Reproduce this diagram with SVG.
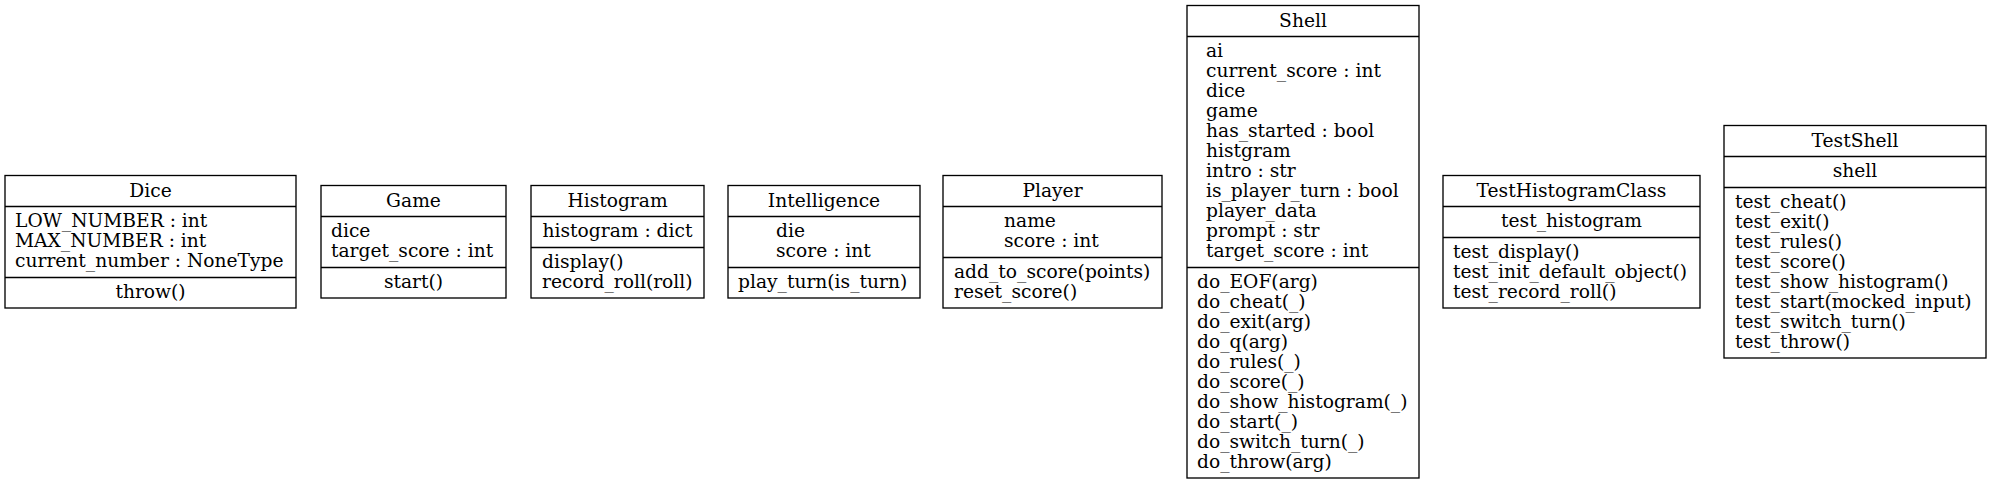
<svg xmlns="http://www.w3.org/2000/svg" width="1990" height="484" viewBox="0 0 1990 484">
<style>
.box{fill:#fff;stroke:#000;stroke-width:1.33}
.sep{stroke:#000;stroke-width:1.33}
text{font-family:"DejaVu Serif","Liberation Serif",serif;font-size:18.67px;fill:#000}
.c{text-anchor:middle}
</style>
<rect width="1990" height="484" fill="#fff"/>
<g id="connectors"></g>
<g id="Dice">
<rect class="box" x="5" y="175.5" width="291" height="132.5"/>
<line class="sep" x1="5" y1="206.5" x2="296" y2="206.5"/>
<line class="sep" x1="5" y1="277.5" x2="296" y2="277.5"/>
<text class="c" x="150.5" y="196.5">Dice</text>
<text x="15" y="227">LOW_NUMBER : int</text>
<text x="15" y="247">MAX_NUMBER : int</text>
<text x="15" y="267">current_number : NoneType</text>
<text class="c" x="150.5" y="298">throw()</text>
</g>
<g id="Game">
<rect class="box" x="321" y="185.5" width="185" height="112.5"/>
<line class="sep" x1="321" y1="216.5" x2="506" y2="216.5"/>
<line class="sep" x1="321" y1="267.5" x2="506" y2="267.5"/>
<text class="c" x="413.5" y="206.5">Game</text>
<text x="331" y="237">dice</text>
<text x="331" y="257">target_score : int</text>
<text class="c" x="413.5" y="288">start()</text>
</g>
<g id="Histogram">
<rect class="box" x="531" y="185.5" width="173" height="112.5"/>
<line class="sep" x1="531" y1="216.5" x2="704" y2="216.5"/>
<line class="sep" x1="531" y1="247.5" x2="704" y2="247.5"/>
<text class="c" x="617.5" y="206.5">Histogram</text>
<text class="c" x="617.5" y="237">histogram : dict</text>
<text x="542" y="268">display()</text>
<text x="542" y="288">record_roll(roll)</text>
</g>
<g id="Intelligence">
<rect class="box" x="728" y="185.5" width="192" height="112.5"/>
<line class="sep" x1="728" y1="216.5" x2="920" y2="216.5"/>
<line class="sep" x1="728" y1="267.5" x2="920" y2="267.5"/>
<text class="c" x="824" y="206.5">Intelligence</text>
<text x="776" y="237">die</text>
<text x="776" y="257">score : int</text>
<text x="738" y="288">play_turn(is_turn)</text>
</g>
<g id="Player">
<rect class="box" x="943" y="175.5" width="219" height="132.5"/>
<line class="sep" x1="943" y1="206.5" x2="1162" y2="206.5"/>
<line class="sep" x1="943" y1="257.5" x2="1162" y2="257.5"/>
<text class="c" x="1052.5" y="196.5">Player</text>
<text x="1004" y="227">name</text>
<text x="1004" y="247">score : int</text>
<text x="954" y="278">add_to_score(points)</text>
<text x="954" y="298">reset_score()</text>
</g>
<g id="Shell">
<rect class="box" x="1187" y="5.5" width="232" height="472.5"/>
<line class="sep" x1="1187" y1="36.5" x2="1419" y2="36.5"/>
<line class="sep" x1="1187" y1="267.5" x2="1419" y2="267.5"/>
<text class="c" x="1303" y="26.5">Shell</text>
<text x="1206" y="57">ai</text>
<text x="1206" y="77">current_score : int</text>
<text x="1206" y="97">dice</text>
<text x="1206" y="117">game</text>
<text x="1206" y="137">has_started : bool</text>
<text x="1206" y="157">histgram</text>
<text x="1206" y="177">intro : str</text>
<text x="1206" y="197">is_player_turn : bool</text>
<text x="1206" y="217">player_data</text>
<text x="1206" y="237">prompt : str</text>
<text x="1206" y="257">target_score : int</text>
<text x="1197" y="288">do_EOF(arg)</text>
<text x="1197" y="308">do_cheat(_)</text>
<text x="1197" y="328">do_exit(arg)</text>
<text x="1197" y="348">do_q(arg)</text>
<text x="1197" y="368">do_rules(_)</text>
<text x="1197" y="388">do_score(_)</text>
<text x="1197" y="408">do_show_histogram(_)</text>
<text x="1197" y="428">do_start(_)</text>
<text x="1197" y="448">do_switch_turn(_)</text>
<text x="1197" y="468">do_throw(arg)</text>
</g>
<g id="TestHistogramClass">
<rect class="box" x="1443" y="175.5" width="257" height="132.5"/>
<line class="sep" x1="1443" y1="206.5" x2="1700" y2="206.5"/>
<line class="sep" x1="1443" y1="237.5" x2="1700" y2="237.5"/>
<text class="c" x="1571.5" y="196.5">TestHistogramClass</text>
<text class="c" x="1571.5" y="227">test_histogram</text>
<text x="1453" y="258">test_display()</text>
<text x="1453" y="278">test_init_default_object()</text>
<text x="1453" y="298">test_record_roll()</text>
</g>
<g id="TestShell">
<rect class="box" x="1724" y="125.5" width="262" height="232.5"/>
<line class="sep" x1="1724" y1="156.5" x2="1986" y2="156.5"/>
<line class="sep" x1="1724" y1="187.5" x2="1986" y2="187.5"/>
<text class="c" x="1855" y="146.5">TestShell</text>
<text class="c" x="1855" y="177">shell</text>
<text x="1735" y="208">test_cheat()</text>
<text x="1735" y="228">test_exit()</text>
<text x="1735" y="248">test_rules()</text>
<text x="1735" y="268">test_score()</text>
<text x="1735" y="288">test_show_histogram()</text>
<text x="1735" y="308">test_start(mocked_input)</text>
<text x="1735" y="328">test_switch_turn()</text>
<text x="1735" y="348">test_throw()</text>
</g>
</svg>
